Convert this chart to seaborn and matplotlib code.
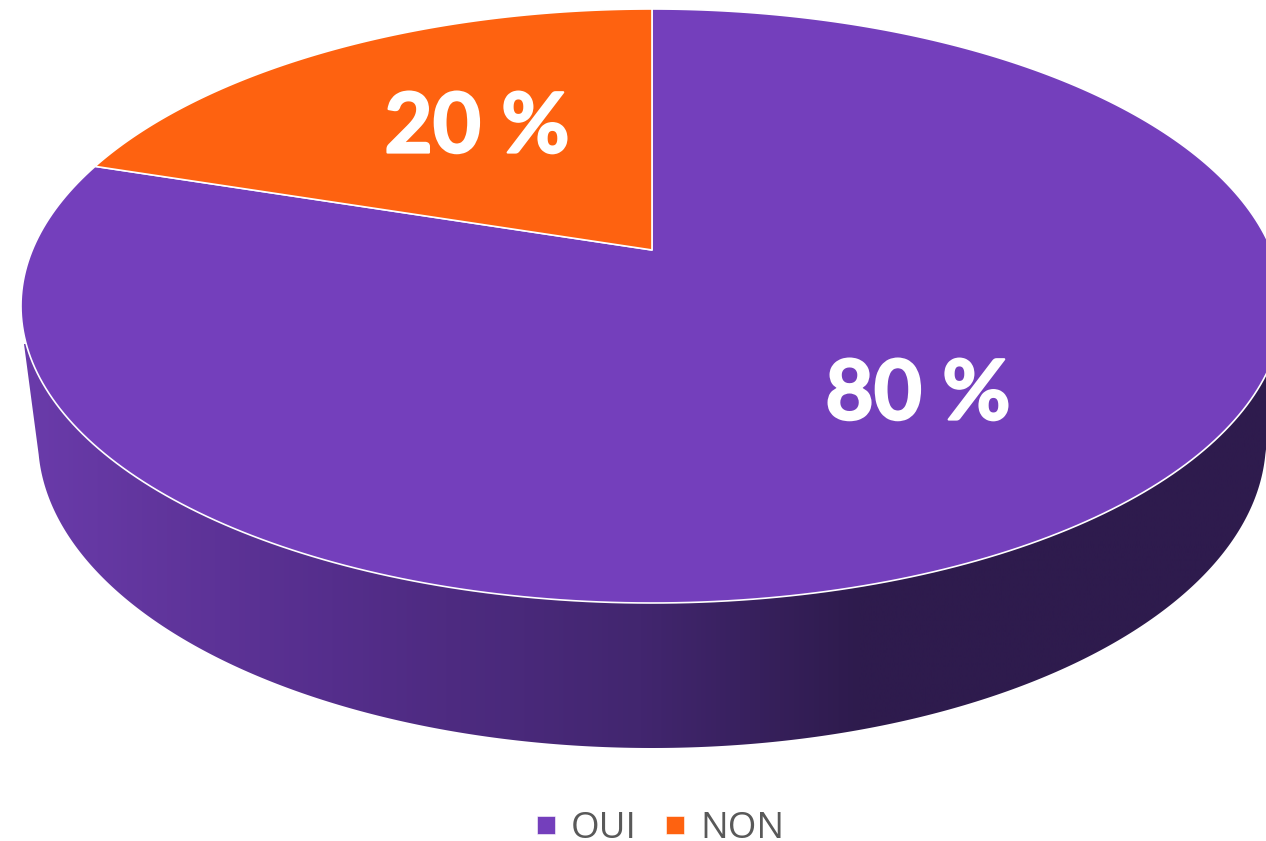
import numpy as np
import matplotlib
matplotlib.use("Agg")
import matplotlib.pyplot as plt
import matplotlib.patheffects as pe
from matplotlib.colors import LinearSegmentedColormap
from matplotlib.lines import Line2D
from matplotlib.patches import Polygon
import seaborn as sns

# 1. Data
labels = ["OUI", "NON"]
values = [80, 20]
value_labels = ["80 %", "20 %"]
slice_colors = ["#743FBC", "#FE6210"]
side_colors = ["#6A3BAA", "#552E8C", "#42266F", "#2E1B4D", "#2E1B4D"]

# 2. Geometry of the tilted pie, in picture pixels
cx, cy = 652, 306
rx, ry = 631, 297
tilt = 56 / 297            # perspective: the centre sits above the middle of the ellipse
low_cy, low_rx, low_ry = 440, 614, 308
side_left, side_right = 24, 1280


def project(theta):
    # theta runs clockwise from 12 o'clock on a unit circle
    x, y = np.sin(theta), np.cos(theta)
    w = 1 + tilt * y
    u = rx * np.sqrt(1 - tilt ** 2) * x / w
    v = (ry * y + tilt * ry) / w
    return cx + u, cy - v


sns.set_theme(style="white")
plt.rcParams["font.family"] = ["Lato", "DejaVu Sans"]

fig = plt.figure(figsize=(12.66, 8.41), dpi=100)
ax = fig.add_axes([0, 0, 1, 1])

# 3. Side of the pie with the left to right shading
t = np.linspace(0.015 * np.pi, 0.985 * np.pi, 300)
low_x = cx - low_rx * np.cos(t)
low_y = low_cy + low_ry * np.sin(t)
side = Polygon(np.column_stack([np.r_[side_left, low_x, side_right],
                                np.r_[344, low_y, 344]]),
               closed=True, facecolor="none", edgecolor="none")
ax.add_patch(side)
stops = (np.array([side_left, 330, 640, 860, side_right]) - side_left) / (side_right - side_left)
cmap = LinearSegmentedColormap.from_list("side", list(zip(stops, side_colors)))
shade = ax.imshow(np.linspace(0, 1, 512).reshape(1, -1), cmap=cmap, aspect="auto",
                  extent=(side_left, side_right, 760, 330))
shade.set_clip_path(side)

# 4. Top of the pie, one slice per value
shares = np.cumsum([0] + values) / sum(values) * 2 * np.pi
centre_y = cy - tilt * ry
for start, end, color in zip(shares[:-1], shares[1:], slice_colors):
    px, py = project(np.linspace(start, end, 300))
    ax.fill(np.r_[cx, px], np.r_[centre_y, py], facecolor=color, edgecolor="white",
            linewidth=1.2, joinstyle="round", zorder=3)

# 5. Value labels, thickened a little to get the heavy look of the original font
for x, y, txt in zip([918, 477], [396, 129], value_labels):
    ax.text(x, y, txt, color="white", fontsize=60, fontweight="bold", ha="center",
            va="center", zorder=4,
            path_effects=[pe.withStroke(linewidth=1.6, foreground="white")])

ax.set_xlim(0, 1266)
ax.set_ylim(841, 0)
ax.axis("off")

# 6. Legend
handles = [Line2D([], [], linestyle="none", marker="s", markersize=13.5,
                  markerfacecolor=c, markeredgecolor="white", markeredgewidth=0.4)
           for c in slice_colors]
ax.legend(handles, labels, ncol=2, frameon=False, loc="center",
          bbox_to_anchor=(658 / 1266, 1 - 829 / 841), labelcolor="#595959",
          handlelength=0.8, handletextpad=0.28, columnspacing=0.64,
          prop={"family": "Open Sans", "size": 26.5})

fig.savefig("out.png", dpi=100)
